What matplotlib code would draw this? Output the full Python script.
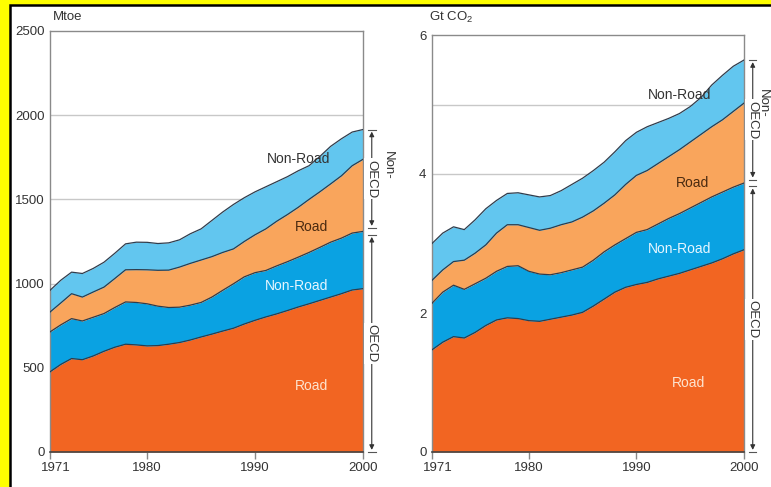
import numpy as np
import matplotlib
matplotlib.use("Agg")
import matplotlib.pyplot as plt
from matplotlib.patches import Rectangle
import matplotlib.transforms as mtransforms

plt.rcParams['font.family'] = ['Liberation Sans', 'DejaVu Sans']
plt.rcParams['mathtext.default'] = 'regular'

years = list(range(1971, 2001))

# Left panel (Mtoe): cumulative tops of stacked bands
mtoe_oecd_road = [476, 520, 555, 548, 570, 598, 622, 640, 636, 630, 632, 640, 650, 665, 683,
                  700, 718, 735, 760, 782, 802, 820, 840, 861, 880, 900, 920, 940, 962, 970]
mtoe_oecd_total = [713, 755, 792, 778, 800, 822, 858, 891, 888, 880, 866, 858, 860, 872, 888,
                   920, 960, 999, 1040, 1065, 1078, 1105, 1130, 1157, 1185, 1215, 1246, 1270, 1300, 1310]
mtoe_nonoecd_road_top = [831, 885, 940, 920, 950, 979, 1030, 1082, 1083, 1082, 1079, 1080, 1098, 1120, 1140,
                         1160, 1185, 1206, 1250, 1290, 1325, 1370, 1410, 1453, 1500, 1545, 1592, 1640, 1700, 1738]
mtoe_total = [960, 1020, 1068, 1060, 1090, 1127, 1180, 1236, 1246, 1245, 1238, 1242, 1260, 1296, 1325,
              1375, 1425, 1470, 1510, 1545, 1575, 1605, 1635, 1670, 1700, 1755, 1815, 1860, 1900, 1915]

# Right panel (Gt CO2): cumulative tops of stacked bands
co2_oecd_road = [1.47, 1.58, 1.66, 1.64, 1.72, 1.82, 1.90, 1.93, 1.92, 1.89, 1.88, 1.91, 1.94, 1.97, 2.01,
                 2.10, 2.20, 2.30, 2.37, 2.41, 2.44, 2.49, 2.53, 2.57, 2.62, 2.67, 2.72, 2.78, 2.85, 2.91]
co2_oecd_total = [2.14, 2.30, 2.40, 2.34, 2.42, 2.50, 2.60, 2.67, 2.68, 2.60, 2.56, 2.55, 2.58, 2.62, 2.66,
                  2.76, 2.88, 2.98, 3.07, 3.16, 3.20, 3.28, 3.36, 3.43, 3.51, 3.59, 3.67, 3.74, 3.81, 3.87]
co2_nonoecd_road_top = [2.47, 2.62, 2.74, 2.76, 2.86, 2.98, 3.15, 3.27, 3.27, 3.23, 3.19, 3.22, 3.27, 3.31, 3.38,
                        3.47, 3.58, 3.70, 3.85, 3.98, 4.05, 4.15, 4.25, 4.35, 4.46, 4.57, 4.68, 4.78, 4.90, 5.02]
co2_total = [3.00, 3.15, 3.24, 3.20, 3.34, 3.50, 3.62, 3.72, 3.73, 3.70, 3.67, 3.69, 3.76, 3.85, 3.94,
             4.05, 4.17, 4.32, 4.48, 4.60, 4.68, 4.74, 4.80, 4.87, 4.97, 5.10, 5.28, 5.42, 5.55, 5.64]

xticks = [1971, 1980, 1990, 2000]
left_yticks = [0, 500, 1000, 1500, 2000, 2500]
right_yticks = [0, 2, 4, 6]

col_oecd_road = '#F26522'
col_oecd_nonroad = '#0AA2E2'
col_non_road = '#F9A55C'
col_non_nonroad = '#62C6EF'
edge = '#2E3C4C'

W, H = 771, 487
fig = plt.figure(figsize=(W / 100, H / 100), dpi=100, facecolor='#FFFF00')
bg = Rectangle((10 / W, -0.05), 1.1, 1 - 5 / H + 0.05, transform=fig.transFigure,
               facecolor='white', edgecolor='black', lw=1.8, zorder=-10)
fig.add_artist(bg)


def make_panel(rect, tops, ymax, yticks, grid_step, unit, unit_x, labels, non_x):
    ax = fig.add_axes(rect)
    ax.set_zorder(5)
    ax.set_facecolor('none')
    b0 = np.zeros(len(years))
    bounds = [b0] + [np.array(t) for t in tops]
    cols = [col_oecd_road, col_oecd_nonroad, col_non_road, col_non_nonroad]
    for i in range(4):
        ax.fill_between(years, bounds[i], bounds[i + 1], color=cols[i], lw=0, zorder=2)
    for t in tops:
        ax.plot(years, t, color=edge, lw=0.9, zorder=3)
    for g in np.arange(grid_step, ymax, grid_step):
        ax.axhline(g, color='#C8C8C8', lw=1.0, zorder=1)
    ax.set_xlim(1971, 2000)
    ax.set_ylim(0, ymax)
    ax.set_xticks(xticks)
    ax.set_yticks(yticks)
    ax.tick_params(axis='y', length=0, pad=4, labelsize=9.5, labelcolor='#333333')
    ax.tick_params(axis='x', length=5, width=1, color='#888888', pad=2, labelsize=9.5, labelcolor='#333333')
    first = ax.get_xticklabels()[0]
    first.set_transform(first.get_transform() +
                        mtransforms.ScaledTranslation(6 / 100, 0, fig.dpi_scale_trans))
    for s in ['left', 'top', 'right']:
        ax.spines[s].set_color('#8A8A8A')
        ax.spines[s].set_linewidth(1)
    ax.spines['bottom'].set_color('#444444')
    ax.spines['bottom'].set_linewidth(1.2)
    fig.text(unit_x, 1 - 17 / H, unit, fontsize=9.5, color='#333333', va='center', ha='left')
    for (txt, x, y, c) in labels:
        ax.text(x, y, txt, fontsize=10, color=c, ha='center', va='center', zorder=5)
    # brackets on the right
    trans = mtransforms.blended_transform_factory(ax.transAxes, ax.transData)
    top_total = tops[3][-1]
    top_oecd = tops[1][-1]
    xb = 1.028
    gap = ymax * 0.008
    for (y1, y0, name) in [(top_total, top_oecd + gap, 'OECD'), (top_oecd - gap, 0, 'OECD')]:
        ax.annotate('', xy=(xb, y1), xytext=(xb, y0), xycoords=trans, textcoords=trans,
                    arrowprops=dict(arrowstyle='<|-|>', color='#333333', lw=0.8,
                                    shrinkA=1.5, shrinkB=1.5, mutation_scale=7), annotation_clip=False)
        for yy in (y1, y0):
            ax.plot([xb - 0.012, xb + 0.012], [yy, yy], color='#555555', lw=0.8, transform=trans,
                    clip_on=False)
        ax.text(xb, (y0 + y1) / 2, name, rotation=-90, fontsize=9.5, color='#333333', ha='center',
                va='center', transform=trans, clip_on=False,
                bbox=dict(facecolor='white', edgecolor='none', pad=1.0))
    ax.text(non_x, top_total - (top_total - top_oecd) * 0.35, 'Non-', rotation=-90, fontsize=9.5,
            color='#333333', ha='center', va='center', transform=trans, clip_on=False)
    return ax


make_panel([50 / W, 1 - 452 / H, 313 / W, 421 / H],
           [mtoe_oecd_road, mtoe_oecd_total, mtoe_nonoecd_road_top, mtoe_total],
           2500, left_yticks, 500, 'Mtoe', 53 / W,
           [('Non-Road', 1994.0, 1742, '#333333'), ('Road', 1995.2, 1339, '#4A2A10'),
            ('Non-Road', 1993.8, 983, '#E6F6FF'), ('Road', 1995.2, 391, '#FDE3CF')], 1.08)

make_panel([432 / W, 1 - 452 / H, 312 / W, 417 / H],
           [co2_oecd_road, co2_oecd_total, co2_nonoecd_road_top, co2_total],
           6, right_yticks, 1, 'Gt CO$_2$', 429 / W,
           [('Non-Road', 1994.0, 5.14, '#333333'), ('Road', 1995.2, 3.87, '#4A2A10'),
            ('Non-Road', 1994.0, 2.92, '#E6F6FF'), ('Road', 1994.8, 0.99, '#FDE3CF')], 1.062)

fig.savefig('out.png', dpi=100, facecolor=fig.get_facecolor())
